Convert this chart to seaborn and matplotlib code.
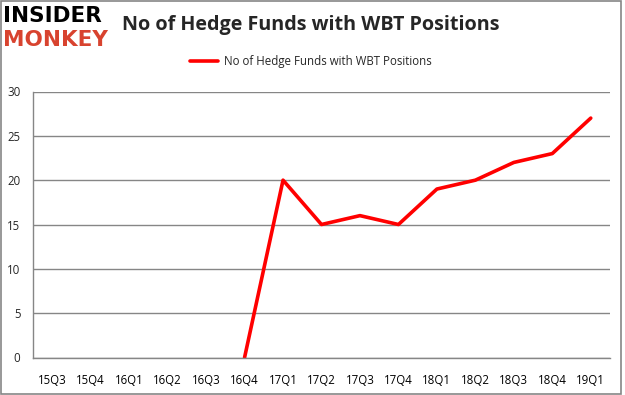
import numpy as np
import pandas as pd
import matplotlib
matplotlib.use("Agg")
import matplotlib.pyplot as plt
import seaborn as sns
from matplotlib.patches import Rectangle

# datos del grafico
quarters = ["15Q3", "15Q4", "16Q1", "16Q2", "16Q3", "16Q4", "17Q1", "17Q2",
            "17Q3", "17Q4", "18Q1", "18Q2", "18Q3", "18Q4", "19Q1"]
hedge_funds = [np.nan, np.nan, np.nan, np.nan, np.nan, 0, 20, 15,
               16, 15, 19, 20, 22, 23, 27]
serie = "No of Hedge Funds with WBT Positions"

df = pd.DataFrame({"pos": range(len(quarters)), "funds": hedge_funds})

sns.set_style("white")
plt.rcParams["font.family"] = ["Open Sans", "DejaVu Sans"]

fig = plt.figure(figsize=(6.25, 3.95), dpi=100)
ax = fig.add_axes([33 / 625, 1 - 357.5 / 395, (610 - 33) / 625, 266 / 395])

sns.lineplot(data=df, x="pos", y="funds", color="#ff0000", linewidth=2.6,
             ax=ax, label=serie, legend=False)

grid_c = "#868686"
ax.set_xlim(-0.5, len(quarters) - 0.5)
ax.set_ylim(0, 30)
ax.set_yticks(range(0, 31, 5))
ax.set_xticks(range(len(quarters)))
ax.set_xticklabels(quarters)
ax.set_xticks(np.arange(-0.5, len(quarters), 1), minor=True)
ax.tick_params(axis="x", which="major", length=0, pad=12, labelsize=8.3, colors="black")
ax.tick_params(axis="x", which="minor", length=5, color=grid_c, width=1)
ax.tick_params(axis="y", length=5, color=grid_c, width=1, labelsize=8.3, pad=4)
ax.yaxis.grid(True, color=grid_c, linewidth=1)
ax.set_xlabel("")
ax.set_ylabel("")
for s in ["top", "right"]:
    ax.spines[s].set_visible(False)
for s in ["left", "bottom"]:
    ax.spines[s].set_color(grid_c)
    ax.spines[s].set_linewidth(1)

# titulo y leyenda
fig.text(311 / 625, 1 - 25 / 395, serie, ha="center", va="center",
         fontsize=14.2, fontweight="bold")
handles, labels = ax.get_legend_handles_labels()
fig.legend(handles, labels, loc="center", bbox_to_anchor=(311 / 625, 1 - 62 / 395),
           frameon=False, fontsize=8.3, handlelength=2.4, handletextpad=0.5)

# logo
fig.text(3 / 625, 1 - 16 / 395, "INSIDER", ha="left", va="center", fontsize=15.5,
         fontweight="heavy", color="black", family="DejaVu Sans")
fig.text(3 / 625, 1 - 40 / 395, "MONKEY", ha="left", va="center", fontsize=15.5,
         fontweight="heavy", color="#d8432f", family="DejaVu Sans")

# borde de la figura
fig.patches.append(Rectangle((0.001, 0.003), 0.993, 0.995, transform=fig.transFigure,
                             fill=False, edgecolor=grid_c, linewidth=1.2))

fig.savefig("out.png", dpi=100)
